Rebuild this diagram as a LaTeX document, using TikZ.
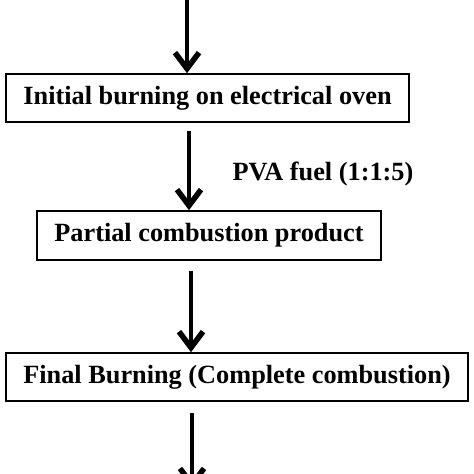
\documentclass[tikz,border=0pt]{standalone}
\usepackage{fontspec}
\setmainfont{Liberation Serif}
\usetikzlibrary{arrows.meta}
\begin{document}
\begin{tikzpicture}[x=1pt,y=-1pt,
  box/.style={draw, line width=1.6pt, inner sep=0pt, font=\fontsize{26.3}{29}\selectfont\bfseries},
  lbl/.style={font=\fontsize{26.3}{29}\selectfont\bfseries, inner sep=0pt},
  flow/.style={line width=4pt, -{Straight Barb[length=16pt,width=24pt,line width=5.5pt]}}]
\clip (0,0) rectangle (474,474);
\fill[white] (0,0) rectangle (474,474);
\node[box, minimum width=403pt, minimum height=48pt] (b1) at (207.5,98) {Initial burning on electrical oven};
\node[box, minimum width=344pt, minimum height=49pt] (b2) at (209,235.5) {Partial combustion product};
\node[box, minimum width=462pt, minimum height=48pt] (b3) at (237,377) {Final Burning (Complete combustion)};
\node[lbl] (l1) at (323,174) {PVA fuel (1:1:5)};
\coordinate (s1) at (187,-6);
\coordinate (s2) at (189,0);
\coordinate (s3) at (191,0);
\coordinate (s4) at (192,489);
\draw[flow] (s1) -- (s1 |- b1.north);
\draw[flow, shorten <=8pt] (b1.south -| s2) -- (b2.north -| s2);
\draw[flow, shorten <=10pt] (b2.south -| s3) -- (b3.north -| s3);
\draw[flow, shorten <=11pt] (b3.south -| s4) -- (s4);
\end{tikzpicture}
\end{document}
